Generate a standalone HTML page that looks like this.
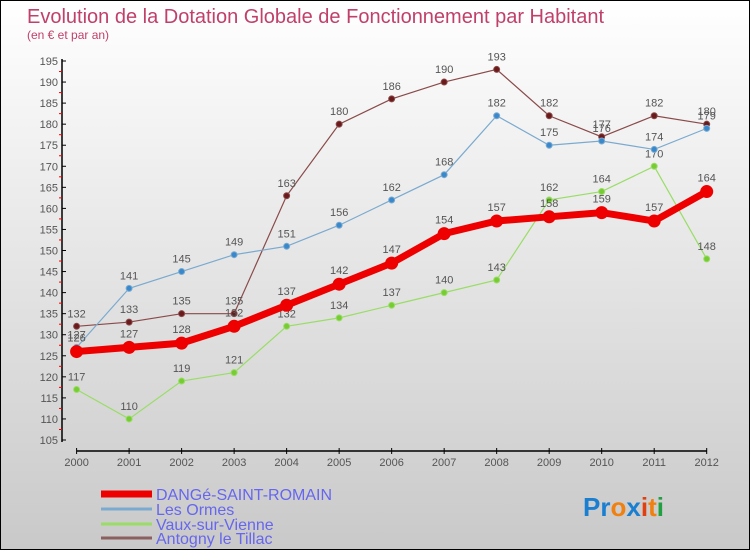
<!DOCTYPE html>
<html><head><meta charset="utf-8"><style>
body{margin:0}
#c{width:748px;height:548px;border:1px solid #000;background:linear-gradient(#fff,#c9c9c9);position:relative;font-family:"Liberation Sans",sans-serif;overflow:hidden}
</style></head><body>
<div id="c">
<svg id="s" width="748" height="548" style="position:absolute;left:0;top:0">
<text x="26" y="22" font-size="20" fill="#c0406a">Evolution de la Dotation Globale de Fonctionnement par Habitant</text>
<text x="26" y="38" font-size="12" fill="#c0406a">(en € et par an)</text>
<g id="ax"></g><g id="ser"></g>
<g>
<line x1="100" y1="493" x2="151" y2="493" stroke="#e00" stroke-width="7"/>
<text x="155" y="499" font-size="16" fill="#6666ee">DANGé-SAINT-ROMAIN</text>
<line x1="100" y1="508" x2="151" y2="508" stroke="#7aaad0" stroke-width="3"/>
<text x="155" y="514" font-size="16" fill="#6666ee">Les Ormes</text>
<line x1="100" y1="523" x2="151" y2="523" stroke="#99dd66" stroke-width="3"/>
<text x="155" y="529" font-size="16" fill="#6666ee">Vaux-sur-Vienne</text>
<line x1="100" y1="537" x2="151" y2="537" stroke="#8a6060" stroke-width="3"/>
<text x="155" y="543" font-size="16" fill="#6666ee">Antogny le Tillac</text>
</g>
<text x="582" y="515" font-size="26" font-weight="bold"><tspan fill="#1a7fd0">Pr</tspan><tspan fill="#f08010">o</tspan><tspan fill="#1a7fd0">x</tspan><tspan fill="#e04010">i</tspan><tspan fill="#f08010">t</tspan><tspan fill="#20a040">i</tspan></text>
</svg>
</div>
<script>
const years=[2000,2001,2002,2003,2004,2005,2006,2007,2008,2009,2010,2011,2012];
const yTicks=[105,110,115,120,125,130,135,140,145,150,155,160,165,170,175,180,185,190,195];
const dange=[126,127,128,132,137,142,147,154,157,158,159,157,164];
const ormes=[127,141,145,149,151,156,162,168,182,175,176,174,179];
const vaux=[117,110,119,121,132,134,137,140,143,162,164,170,148];
const antogny=[132,133,135,135,163,180,186,190,193,182,177,182,180];
const NS="http://www.w3.org/2000/svg";
const X=i=>75.6+i*(705.7-75.6)/(years.length-1);
const Y=v=>60+(195-v)*(439-60)/90;
function mk(t,a,p){const e=document.createElementNS(NS,t);for(const k in a)e.setAttribute(k,a[k]);p.appendChild(e);return e;}
const ax=document.getElementById('ax');
let l=mk('line',{x1:61,y1:58,x2:61,y2:441,stroke:'#000','stroke-width':1.5},ax);


yTicks.forEach((v,k)=>{
 mk('line',{x1:61,y1:Y(v),x2:65,y2:Y(v),stroke:'#000'},ax);
 if(k<yTicks.length-1) mk('line',{x1:58,y1:Y(v+2.5),x2:61,y2:Y(v+2.5),stroke:'#e00'},ax);
 const t=mk('text',{x:57,y:Y(v)+4,'text-anchor':'end','font-size':11,fill:'#555'},ax);t.textContent=v;
 
 
});
l=mk('line',{x1:75.6,y1:450,x2:705.7,y2:450,stroke:'#000','stroke-width':1.5},ax);


years.forEach((y,i)=>{
 mk('line',{x1:X(i),y1:447,x2:X(i),y2:453,stroke:'#000'},ax);
 const t=mk('text',{x:X(i),y:465,'text-anchor':'middle','font-size':11,fill:'#555'},ax);t.textContent=y;
 
 
});
const ser=document.getElementById('ser');
function draw(d,name,col,dot,w,r,labOff){
 const g=mk('g',{},ser);
 
 
 mk('polyline',{points:d.map((v,i)=>X(i)+','+Y(v)).join(' '),fill:'none',stroke:col,'stroke-width':w},g);
 d.forEach((v,i)=>{
  const c=mk('circle',{cx:X(i),cy:Y(v),r:r,fill:dot,stroke:col,'stroke-width':1},g);
  
  
  const t=mk('text',{x:X(i),y:Y(v)-labOff,'text-anchor':'middle','font-size':11,fill:'#555'},g);t.textContent=v;
 });
}
draw(antogny,'series-antogny','#8a4a4a','#6a1a1a',1.2,3,9);
draw(vaux,'series-vaux','#99dd66','#77cc33',1.2,3,9);
draw(ormes,'series-ormes','#7aaad0','#3a88cc',1.2,3,9);
draw(dange,'series-dange','#ee0000','#ee0000',7,6,10);
</script>
</body></html>
